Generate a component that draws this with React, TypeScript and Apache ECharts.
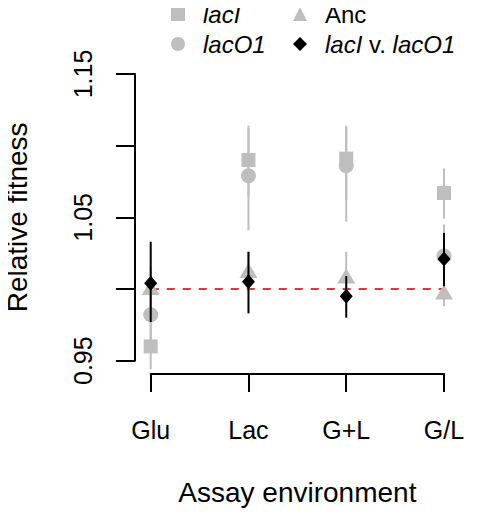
import React, { useEffect, useRef } from "react";
import * as echarts from "echarts";

const categories = ["Glu", "Lac", "G+L", "G/L"];
const yTickLabels = ["0.95", "1.05", "1.15"];

const lacIMean = [0.96, 1.09, 1.091, 1.067];
const lacILow = [0.944, 1.065, 1.062, 1.049];
const lacIHigh = [0.976, 1.114, 1.114, 1.084];

const lacO1Mean = [0.982, 1.079, 1.086, 1.023];
const lacO1Low = [0.963, 1.041, 1.047, 1.002];
const lacO1High = [1.001, 1.112, 1.113, 1.045];

const ancMean = [1.001, 1.013, 1.009, 0.998];
const ancLow = [0.986, 0.998, 0.994, 0.988];
const ancHigh = [1.016, 1.026, 1.026, 1.01];

const vsMean = [1.004, 1.005, 0.995, 1.021];
const vsLow = [0.977, 0.983, 0.98, 1.002];
const vsHigh = [1.033, 1.026, 1.009, 1.039];

const refLine = [1.0, 1.0];

const FONT = "Liberation Sans, Arial, Helvetica, sans-serif";
const GRAY = "#bebebe";

function errSeries(low: number[], high: number[], color: string, z: number) {
  return {
    type: "custom",
    z,
    clip: false,
    silent: true,
    encode: { x: 0, y: [1, 2] },
    data: categories.map((_, i) => [i, low[i], high[i]]),
    renderItem: (params: any, api: any) => {
      const x = api.value(0);
      const a = api.coord([x, api.value(1)]);
      const b = api.coord([x, api.value(2)]);
      return {
        type: "line",
        shape: { x1: a[0], y1: a[1], x2: b[0], y2: b[1] },
        style: { stroke: color, lineWidth: 2 },
      };
    },
  };
}

function pts(name: string, mean: number[], symbol: string, size: any, color: string, z: number) {
  return {
    name,
    type: "scatter",
    z,
    clip: false,
    symbol,
    symbolSize: size,
    itemStyle: { color, opacity: 1 },
    data: mean.map((v, i) => [i, v]),
  };
}

export default function App() {
  const ref = useRef<HTMLDivElement>(null);
  useEffect(() => {
    if (!ref.current) return;
    const chart = echarts.init(ref.current, null, { renderer: "svg" });
    const legendText = {
      fontSize: 24,
      fontFamily: FONT,
      color: "#000",
      lineHeight: 24,
      rich: {
        i: { fontStyle: "italic", fontSize: 24, fontFamily: FONT, color: "#000" },
        n: { fontSize: 24, fontFamily: FONT, color: "#000" },
        sp: { width: 13, fontSize: 24 },
      },
    };
    const fmt = (name: string) => {
      if (name === "lacI v. lacO1") return "{sp| }{i|lacI}{n| v. }{i|lacO1}";
      if (name === "Anc") return "{sp| }{n|" + name + "}";
      return "{sp| }{i|" + name + "}";
    };
    const legendBase = {
      orient: "vertical",
      top: 2,
      padding: 0,
      itemGap: 6,
      itemWidth: 14,
      itemHeight: 14,
      selectedMode: false,
      formatter: fmt,
      textStyle: legendText,
    };
    chart.setOption({
      animation: false,
      backgroundColor: "#fff",
      textStyle: { fontFamily: FONT },
      legend: [
        { ...legendBase, left: 171, data: ["lacI", "lacO1"] },
        { ...legendBase, left: 293, data: ["Anc", "lacI v. lacO1"] },
      ],
      grid: {
        left: 150.7,
        right: 33,
        top: 74,
        bottom: 155.3,
        containLabel: false,
        outerBoundsMode: "none",
      },
      xAxis: {
        type: "value",
        min: 0,
        max: 3,
        interval: 1,
        offset: 13.3,
        name: "Assay environment",
        nameLocation: "middle",
        nameGap: 104,
        nameTextStyle: { fontSize: 28, fontFamily: FONT, color: "#000" },
        axisLine: { show: true, onZero: false, lineStyle: { color: "#000", width: 2 } },
        axisTick: { show: true, length: 18, lineStyle: { color: "#000", width: 2 } },
        axisLabel: {
          margin: 43,
          fontSize: 25,
          fontFamily: FONT,
          color: "#000",
          formatter: (v: number) => categories[Math.round(v)] ?? "",
        },
        splitLine: { show: false },
      },
      yAxis: {
        type: "value",
        min: 0.95,
        max: 1.15,
        interval: 0.05,
        offset: 15.7,
        name: "Relative fitness",
        nameLocation: "middle",
        nameRotate: 90,
        nameGap: 104,
        nameTextStyle: { fontSize: 28, fontFamily: FONT, color: "#000" },
        axisLine: { show: true, onZero: false, lineStyle: { color: "#000", width: 2 } },
        axisTick: { show: true, length: 19, lineStyle: { color: "#000", width: 2 } },
        axisLabel: {
          rotate: 90,
          margin: 40,
          fontSize: 25,
          fontFamily: FONT,
          color: "#000",
          formatter: (v: number) => {
            const s = v.toFixed(2);
            return yTickLabels.includes(s) ? s : "";
          },
        },
        splitLine: { show: false },
      },
      series: [
        {
          type: "line",
          z: 1,
          clip: false,
          silent: true,
          symbol: "none",
          lineStyle: { color: "#d93a3a", width: 2, type: [8, 8] },
          data: refLine.map((v, i) => [i * 3, v]),
        },
        errSeries(lacILow, lacIHigh, GRAY, 2),
        errSeries(lacO1Low, lacO1High, GRAY, 2),
        errSeries(ancLow, ancHigh, GRAY, 2),
        pts("lacO1", lacO1Mean, "circle", 15, GRAY, 3),
        pts("lacI", lacIMean, "rect", 14, GRAY, 4),
        pts("Anc", ancMean, "triangle", [18, 15], GRAY, 4),
        errSeries(vsLow, vsHigh, "#000", 5),
        pts("lacI v. lacO1", vsMean, "diamond", [13, 15], "#000", 6),
      ],
    });
    return () => chart.dispose();
  }, []);
  return <div ref={ref} style={{ width: 477, height: 516, margin: -8 }} />;
}
